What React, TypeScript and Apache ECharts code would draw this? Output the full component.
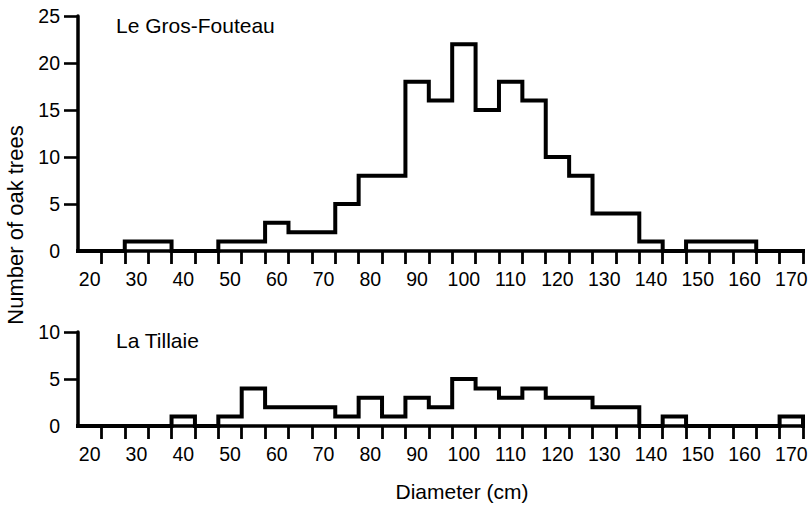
import React, { useEffect, useRef } from "react";
import * as echarts from "echarts";

// Diameter classes (class centres, cm); each class is 5 cm wide
const diameters = [
  20, 25, 30, 35, 40, 45, 50, 55, 60, 65, 70, 75, 80, 85, 90, 95, 100, 105,
  110, 115, 120, 125, 130, 135, 140, 145, 150, 155, 160, 165, 170,
];
const BIN_WIDTH = 5;

// Number of oak trees per diameter class
const grosFouteau = [
  0, 0, 1, 1, 0, 0, 1, 1, 3, 2, 2, 5, 8, 8, 18, 16, 22, 15, 18, 16, 10, 8, 4,
  4, 1, 0, 1, 1, 1, 0, 0,
];
const tillaie = [
  0, 0, 0, 0, 1, 0, 1, 4, 2, 2, 2, 1, 3, 1, 3, 2, 5, 4, 3, 4, 3, 3, 2, 2, 0, 1,
  0, 0, 0, 0, 1,
];

const xTickLabels = [20, 30, 40, 50, 60, 70, 80, 90, 100, 110, 120, 130, 140, 150, 160, 170];
const yTicksTop = [0, 5, 10, 15, 20, 25];
const yTicksBottom = [0, 5, 10];

const panelNames = ["Le Gros-Fouteau", "La Tillaie"];
const yTitle = "Number of oak trees";
const xTitle = "Diameter (cm)";

const FONT = '"Liberation Sans", Arial, Helvetica, sans-serif';

// Class boundaries: every class edge gets a tick
const classEdges = diameters.map((d) => d + BIN_WIDTH / 2);
const xMin = diameters[0] - BIN_WIDTH / 2;
const xMax = diameters[diameters.length - 1] + BIN_WIDTH / 2;

// Outline of a histogram: one point at each class' left edge, closed at the right
function outline(counts: number[]): number[][] {
  const pts = counts.map((c, i) => [diameters[i] - BIN_WIDTH / 2, c]);
  pts.push([xMax, 0]);
  return pts;
}

export default function App() {
  const ref = useRef<HTMLDivElement>(null);

  useEffect(() => {
    if (!ref.current) return;
    const chart = echarts.init(ref.current, null, { renderer: "svg" });

    const xAxis = [0, 1].map((g) => ({
      type: "value",
      gridIndex: g,
      min: xMin,
      max: xMax,
      axisLine: { show: true, onZero: false, lineStyle: { color: "#000", width: 3.5 } },
      axisTick: {
        show: true,
        customValues: classEdges,
        length: 13,
        lineStyle: { color: "#000", width: 2.8 },
      },
      axisLabel: {
        customValues: xTickLabels,
        color: "#000",
        fontSize: 19.5,
        fontFamily: FONT,
        margin: 18,
      },
      splitLine: { show: false },
    }));

    const yAxis = [yTicksTop, yTicksBottom].map((ticks, g) => ({
      type: "value",
      gridIndex: g,
      min: ticks[0],
      max: ticks[ticks.length - 1],
      axisLine: { show: true, lineStyle: { color: "#000", width: 3.5 } },
      axisTick: {
        show: true,
        customValues: ticks.slice(1),
        length: 14,
        lineStyle: { color: "#000", width: 2.6 },
      },
      axisLabel: {
        customValues: ticks,
        color: "#000",
        fontSize: 19.5,
        fontFamily: FONT,
        margin: 18,
      },
      splitLine: { show: false },
    }));

    const series = [grosFouteau, tillaie].map((counts, g) => ({
      type: "line",
      xAxisIndex: g,
      yAxisIndex: g,
      step: "end",
      symbol: "none",
      z: 5,
      lineStyle: { color: "#000", width: 4, join: "miter", cap: "square" },
      data: outline(counts),
    }));

    chart.setOption({
      animation: false,
      backgroundColor: "#fff",
      grid: [
        { left: 78, right: 9, top: 16, height: 235 },
        { left: 78, right: 9, top: 332, height: 94 },
      ],
      xAxis,
      yAxis,
      series,
      graphic: [
        {
          type: "text",
          x: 116,
          y: 25,
          style: {
            text: panelNames[0],
            fill: "#000",
            font: `21px ${FONT}`,
            textVerticalAlign: "middle",
          },
        },
        {
          type: "text",
          x: 116,
          y: 340,
          style: {
            text: panelNames[1],
            fill: "#000",
            font: `21px ${FONT}`,
            textVerticalAlign: "middle",
          },
        },
        {
          type: "text",
          x: 15,
          y: 225,
          rotation: Math.PI / 2,
          style: {
            text: yTitle,
            fill: "#000",
            font: `22px ${FONT}`,
            textAlign: "center",
            textVerticalAlign: "middle",
          },
        },
        {
          type: "text",
          x: 462,
          y: 491,
          style: {
            text: xTitle,
            fill: "#000",
            font: `21px ${FONT}`,
            textAlign: "center",
            textVerticalAlign: "middle",
          },
        },
      ],
    });

    return () => chart.dispose();
  }, []);

  return (
    <div
      ref={ref}
      style={{ width: 812, height: 506, position: "absolute", left: 0, top: 0 }}
    />
  );
}
